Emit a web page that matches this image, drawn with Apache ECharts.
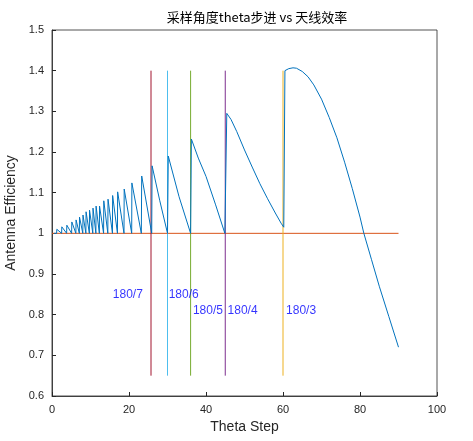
<!DOCTYPE html>
<html><head><meta charset="utf-8">
<script src="https://cdn.jsdelivr.net/npm/echarts@6/dist/echarts.min.js"></script>
<style>html,body{margin:0;padding:0;background:#fff}#main{width:473px;height:441px}</style>
</head><body><div id="main"></div>
<script>
// 曲线数据 [theta step, efficiency]
var effCurve = [
  [0.5,1.0],[1.2,1.0],[1.25,1.010],[2.5,1.0],[2.55,1.016],[3.8,1.0],[3.85,1.020],
  [5.1,1.0],[5.15,1.028],[6.2,1.0],[6.25,1.033],[7.1,1.0],[7.15,1.040],[8.0,1.0],[8.05,1.045],
  [8.8,1.0],[8.85,1.053],[9.7,1.0],[9.75,1.057],[10.6,1.0],[10.65,1.062],[11.4,1.0],[11.45,1.067],
  [12.3,1.0],[12.35,1.067],[13.4,1.0],[13.45,1.080],[14.5,1.0],[14.55,1.084],[15.7,1.0],[15.75,1.093],
  [17.0,1.0],[17.05,1.102],[18.7,1.0],[18.75,1.109],[20.7,1.0],[20.75,1.124],[23.2,1.0],[23.3,1.141],
  [25.9,1.0],[26.0,1.166],[28,1.08],[30.0,1.0],[30.2,1.19],[33,1.09],[36.0,1.0],[36.2,1.232],[38,1.185],[40,1.14],[42.5,1.07],[44.9,1.0],
  [45.4,1.295],[46.5,1.28],[48,1.25],[50,1.205],[52,1.163],[54,1.122],[56,1.085],[58,1.05],[59.5,1.025],[60.2,1.015],[60.5,1.40],
  [61.5,1.405],[62.6,1.407],[63.5,1.406],[65,1.398],[66.5,1.385],[68,1.365],[70,1.33],[72,1.285],[74,1.235],[76,1.175],[78,1.11],
  [80,1.04],[81,1.0],[83,0.935],[85,0.87],[87.5,0.795],[90,0.72]
];
var refLine = [[0,1],[90,1]];
var lineX = [180/7, 180/6, 180/5, 180/4, 180/3];
var lineColors = ['#A2142F','#4DBEEE','#77AC30','#7E2F8E','#EDB120'];
var lineRange = [0.65, 1.4];
var labelText = ['180/7','180/6','180/5','180/4','180/3'];
var labelPos = [[15.8,0.85],[30.3,0.85],[36.6,0.81],[45.6,0.81],[60.8,0.81]];

var series = [
  {type:'line', data:effCurve, showSymbol:false, lineStyle:{color:'#0072BD', width:1}, z:3},
  {type:'line', data:refLine, showSymbol:false, lineStyle:{color:'#D95319', width:1}, z:2}
];
for (var i=0;i<lineX.length;i++){
  series.push({type:'line', showSymbol:false, data:[[lineX[i],lineRange[0]],[lineX[i],lineRange[1]]],
    lineStyle:{color:lineColors[i], width:1}, z:2});
}
series.push({type:'scatter', symbolSize:0, data:labelPos.map(function(p,i){return {value:p, name:labelText[i]};}),
  label:{show:true, position:'right', distance:0, formatter:'{b}', color:'#0000FF', fontSize:12, fontFamily:'Arial'}});

var tickFmt = function(v){return String(Math.round(v*10)/10);};
var axisCommon = {
  axisLine:{onZero:false, lineStyle:{color:'#262626', width:0.8}},
  axisTick:{inside:true, length:4, lineStyle:{color:'#262626'}},
  splitLine:{show:false},
  nameLocation:'middle',
  nameTextStyle:{color:'#262626', fontSize:14, fontFamily:'Arial'}
};
var chart = echarts.init(document.getElementById('main'));
chart.setOption({
  animation:false,
  title:{text:'采样角度theta步进 vs 天线效率', left:252, top:6, textAlign:'center',
    textStyle:{fontSize:13, fontWeight:'normal', color:'#000', fontFamily:'Noto Sans CJK SC, Arial'}},
  grid:{left:52, right:36, top:30, bottom:45, show:true, borderColor:'#262626', borderWidth:0.8,
    containLabel:false, outerBoundsMode:'none'},
  xAxis:Object.assign({type:'value', min:0, max:100, interval:20, name:'Theta Step', nameGap:22,
    axisLabel:{color:'#262626', fontSize:11, fontFamily:'Arial'}}, axisCommon),
  yAxis:Object.assign({type:'value', min:0.6, max:1.5, interval:0.1, name:'Antenna Efficiency', nameGap:32,
    axisLabel:{color:'#262626', fontSize:11, fontFamily:'Arial', formatter:tickFmt}}, axisCommon),
  series:series
});
</script></body></html>
